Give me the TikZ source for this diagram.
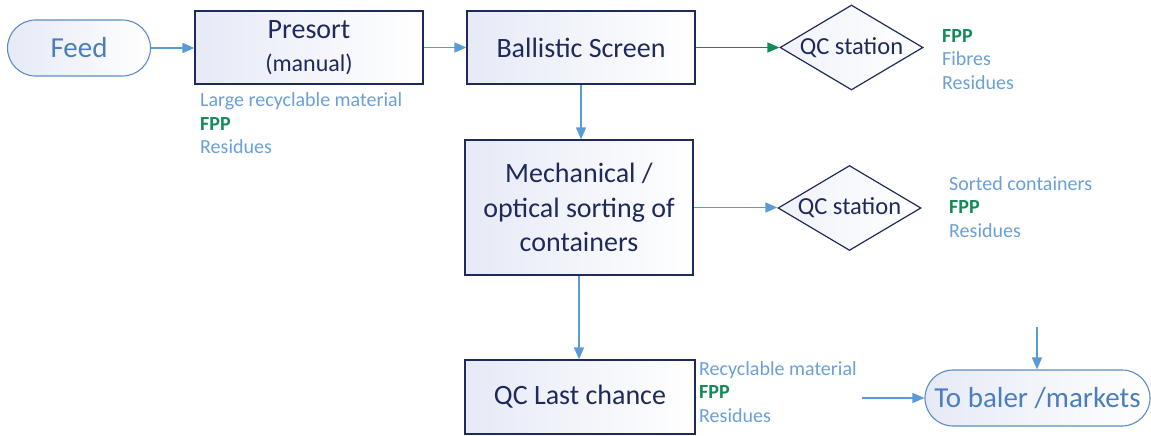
\documentclass[tikz,border=0pt]{standalone}
\usepackage{fontspec}
\setmainfont{Carlito}
\usetikzlibrary{shapes.geometric,arrows.meta}
\definecolor{navy}{HTML}{1F2A5C}
\definecolor{lblue}{HTML}{5B9BD5}
\definecolor{txtblue}{HTML}{6A9FD8}
\definecolor{fppgreen}{HTML}{108A57}
\definecolor{boxfill}{HTML}{E6EAF6}
\definecolor{feedline}{HTML}{5B8CC6}
\definecolor{feedtext}{HTML}{4A7EC0}
\newcommand{\fpp}{{\bfseries\color{fppgreen}FPP}}
\begin{document}
\begin{tikzpicture}[x=1pt,y=-1pt,
  procbox/.style={draw=navy, line width=1.3pt, left color=boxfill, right color=white,
    text=navy, font=\fontsize{28}{34.5}\selectfont, align=center, inner sep=0pt, minimum width=228pt},
  term/.style={draw=feedline, line width=1.1pt, rounded corners=28pt, left color=boxfill, right color=white,
    text=feedtext, font=\fontsize{29}{32}\selectfont, inner sep=0pt, minimum height=56pt},
  qcdiamond/.style={shape=diamond, draw=navy, line width=1.2pt, left color=boxfill!60, right color=white,
    inner sep=0pt, minimum width=143pt, minimum height=85pt,
    label={[text=navy, font=\fontsize{24.5}{28}\selectfont, inner sep=0pt]center:#1}},
  lbl/.style={anchor=north west, align=left, inner sep=0pt, text=txtblue, font=\fontsize{20}{23.7}\selectfont},
  conn/.style={draw=lblue, line width=1.7pt, -{Triangle[length=12pt,width=10pt]}},
  gconn/.style={draw=fppgreen, line width=1.7pt, -{Triangle[length=12pt,width=10pt]}}
]
\useasboundingbox (0,0) rectangle (1151,436);

\node[term, minimum width=143pt] (feed) at (79,48) {Feed};
\node[procbox, minimum height=73pt] (presort) at (309,47.5) {Presort\\[-1pt]{\fontsize{24}{28}\selectfont(manual)}};
\node[procbox, minimum height=73pt] (ballistic) at (581,47.5) {Ballistic Screen};
\node[qcdiamond=QC station] (qc1) at (851.5,47.5) {};
\node[procbox, minimum height=135pt] (mech) at (579,207.5) {Mechanical /\\optical sorting of\\containers};
\node[qcdiamond=QC station] (qc2) at (849.5,208) {};
\node[procbox, minimum width=230pt, minimum height=74pt] (last) at (580,397) {QC Last chance};
\node[term, minimum width=225pt] (baler) at (1037.5,398) {To baler /markets};

\node[lbl] (lpresort) at (200,92.5) {Large recyclable material\\\fpp\\Residues};
\node[lbl] (lqc1) at (942,29) {\fpp\\Fibres\\Residues};
\node[lbl] (lqc2) at (949,176) {Sorted containers\\\fpp\\Residues};
\node[lbl] (llast) at (699,361) {Recyclable material\\\fpp\\Residues};

\coordinate (inleft) at (862,398);
\coordinate (intop) at (1037,327);

\draw[conn] (feed.east) -- (feed.east -| presort.west);
\draw[conn] (presort.east) -- (ballistic.west);
\draw[gconn] (ballistic.east) -- (qc1.west);
\draw[conn] (ballistic.south) -- (ballistic.south |- mech.north);
\draw[conn] (mech.east) -- (mech.east -| qc2.west);
\draw[conn] (mech.south) -- (mech.south |- last.north);
\draw[conn] (inleft) -- (baler.west);
\draw[conn] (intop) -- (intop |- baler.north);
\end{tikzpicture}
\end{document}
